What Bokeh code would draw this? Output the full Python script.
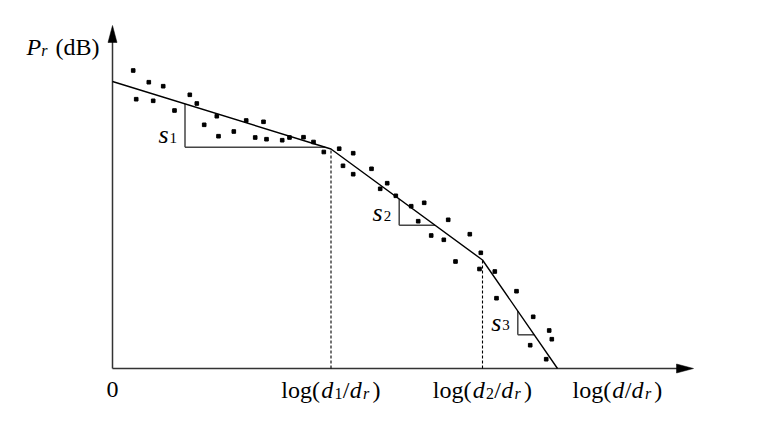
import numpy as np
from bokeh.plotting import figure
from bokeh.models import ColumnDataSource, Range1d
from bokeh.core.properties import value
from bokeh.embed import file_html
from bokeh.resources import INLINE

# ---------------- data (log-distance units, received power in dB units) ----------------
meas_dist = [2.07, 3.63, 5.07, 2.37, 4.07, 7.73, 8.43, 6.20, 10.43, 9.17, 13.37, 15.10,
             10.60, 12.13, 14.27, 15.40, 16.97, 17.70, 19.10, 20.10, 21.13, 22.67, 24.07,
             23.05, 24.07, 25.90, 27.47, 26.77, 28.33, 29.87, 31.17, 30.57, 33.57, 31.87,
             33.13, 35.73, 36.83, 34.30, 36.70, 38.23, 40.40, 38.40, 42.07, 43.67, 43.93,
             41.77, 43.37]
meas_pr = [29.80, 28.63, 28.23, 26.93, 26.77, 27.37, 26.50, 25.80, 25.23, 24.37, 24.80, 24.67,
           23.23, 23.70, 23.10, 22.93, 22.83, 23.10, 23.13, 22.65, 21.65, 21.98, 21.53,
           20.27, 19.43, 19.97, 18.53, 17.97, 17.27, 16.23, 16.57, 14.73, 14.87, 13.30,
           12.87, 13.43, 11.57, 10.70, 9.95, 9.70, 7.73, 7.03, 5.17, 3.80, 2.93,
           2.33, 0.93]

model_dist = [0.0, 21.85, 37.0, 44.5]      # piecewise-linear fit breakpoints
model_pr = [28.7, 21.95, 10.85, 0.0]

break_dist = [21.85, 37.0]                 # log(d1/dr), log(d2/dr)
slope_dist = [7.25, 28.67, 40.53]          # where the slope triangles stand
slope_base = [22.13, 14.33, 3.37]          # bottom level of each slope triangle
slope_sub = ["1", "2", "3"]

tick_dist = [0.0, 21.85, 37.0]
axis_end_x = 58.1
axis_end_y = 34.3
xtitle_dist = 50.5

# ---------------- figure ----------------
PX = 10.0  # page pixels per data unit (both directions)
p = figure(width=762, height=420, output_backend="svg", toolbar_location=None,
           x_range=Range1d(-11.2, 65.0), y_range=Range1d(-5.2, 36.8),
           x_axis_location=None, y_axis_location=None, min_border=0)
p.grid.visible = False
p.outline_line_color = None
p.background_fill_color = "white"
p.border_fill_color = "white"

AX = "#333333"
# axes
p.segment(x0=[0, 0], y0=[0, 0], x1=[axis_end_x - 1.2, 0], y1=[0, axis_end_y - 1.2],
          line_color=AX, line_width=1.5)
# arrow heads
hl, hw = 1.7, 0.45
p.patches(xs=[[axis_end_x, axis_end_x - hl, axis_end_x - hl],
              [0, -hw, hw]],
          ys=[[0, hw, -hw],
              [axis_end_y, axis_end_y - hl, axis_end_y - hl]],
          fill_color="black", line_color="black", line_width=0.5)

# dashed verticals at break points
brk_pr = np.interp(break_dist, model_dist, model_pr)
p.segment(x0=break_dist, y0=[0] * len(break_dist), x1=break_dist, y1=list(brk_pr),
          line_color="black", line_width=1.1, line_dash="3 2")

# slope triangles
sd = np.array(slope_dist)
sb = np.array(slope_base)
top = np.interp(sd, model_dist, model_pr)
right = np.interp(sb, model_pr[::-1], model_dist[::-1])
p.segment(x0=list(sd), y0=list(top), x1=list(sd), y1=list(sb), line_color="#444444", line_width=1.5)
p.segment(x0=list(sd), y0=list(sb), x1=list(right), y1=list(sb), line_color="#444444", line_width=1.5)

# model line
p.line(model_dist, model_pr, line_color="black", line_width=1.4)

# measurements
p.scatter(meas_dist, meas_pr, marker="square", size=3.6, color="black")

# ---------------- rich text helper ----------------
REG = {'l': 278, 'o': 500, 'g': 500, '(': 333, ')': 333, '/': 278, '0': 500, '1': 500,
       '2': 500, '3': 500, ' ': 250, 'd': 500, 'B': 667}
ITA = {'d': 500, 'r': 389, 's': 389, 'P': 611}

rows = {"normal": dict(x=[], y=[], text=[], fs=[]), "italic": dict(x=[], y=[], text=[], fs=[])}
TEXT_RAISE = 0.7  # correction of the baseline placement (data units)


def rich(segs, ax, base_y, align="center", stretch=1.0):
    # segs: (text, italic, size_px, drop_px, gap_before_px)
    items = []
    cur = 0.0
    for t, it, size, drop, gap in segs:
        cur += gap
        w = sum((ITA if it else REG).get(c, 500) for c in t) * size / 1000.0 * stretch
        items.append((t, it, size, drop, cur))
        cur += w
    total = cur
    if align == "center":
        start = ax - total / 2 / PX
    elif align == "right":
        start = ax - total / PX
    else:
        start = ax
    for t, it, size, drop, off in items:
        r = rows["italic" if it else "normal"]
        r["x"].append(start + off / PX)
        r["y"].append(base_y + TEXT_RAISE - drop / PX)
        r["text"].append(t)
        r["fs"].append(f"{size}px")


FS, SUB = 24, 16
X_BASE = -2.8   # baseline of tick labels
for xd, k in zip(tick_dist, ["0", "1", "2"]):
    if k == "0":
        rich([("0", False, FS, 0, 0)], xd, X_BASE)
    else:
        rich([("log(", False, FS, 0, 0), ("d", True, FS, 0, 0), (k, False, SUB, 4, 1),
              ("/", False, FS, 0, 0), ("d", True, FS, 0, 0), ("r", True, SUB, 4, 1),
              (")", False, FS, 0, 3)], xd, X_BASE, stretch=1.03)
rich([("log(", False, FS, 0, 0), ("d", True, FS, 0, 0),
      ("/", False, FS, 0, 0), ("d", True, FS, 0, 0), ("r", True, SUB, 4, 1),
      (")", False, FS, 0, 3)], xtitle_dist, X_BASE, stretch=1.03)

# y title
rich([("P", True, FS, 0, 0), ("r", True, SUB, 3, 0), ("(dB)", False, FS, 0, 8)],
     -8.6, 31.45, align="left")

# slope labels
for xd, yb, k in zip(sd, sb, slope_sub):
    rich([("s", True, 26, 0, 0), (k, False, 15, 3, 1)], xd - 0.8, yb + 0.55, align="right")

for style, r in rows.items():
    src = ColumnDataSource(r)
    p.text(x="x", y="y", text="text", text_font_size="fs", source=src,
           text_font=value("Liberation Serif"), text_font_style=style,
           text_align="left", text_baseline="alphabetic", text_color="black")

open("out.html", "w").write(file_html(p, INLINE))
